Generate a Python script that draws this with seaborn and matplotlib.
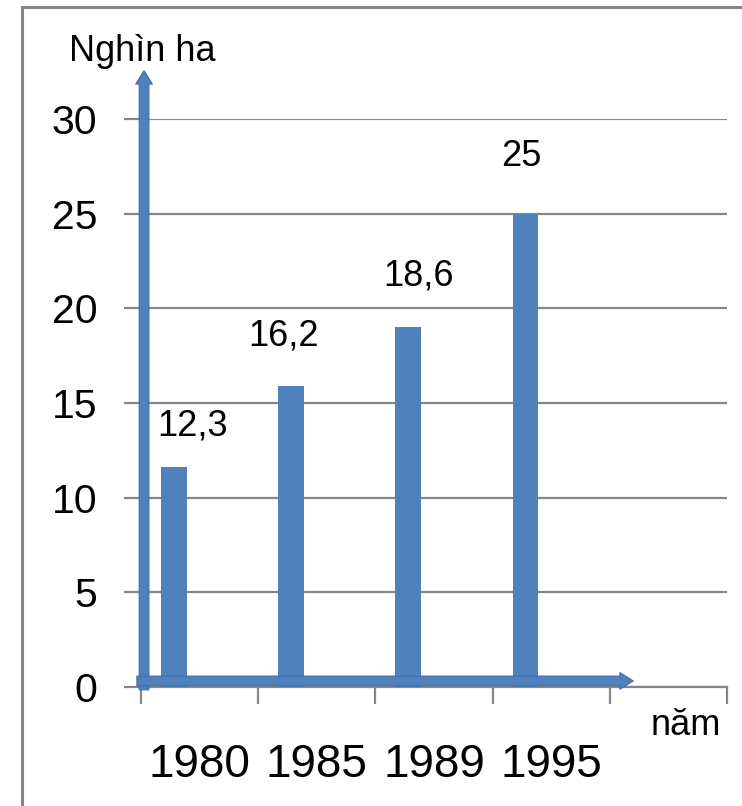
import matplotlib
matplotlib.use("Agg")
import matplotlib.pyplot as plt
import seaborn as sns
import pandas as pd
from matplotlib.patches import Rectangle
from matplotlib.ticker import FixedLocator

# ---- data ----
years = ["1980", "1985", "1989", "1995"]
values = [11.6, 15.9, 19.0, 25.0]
value_labels = ["12,3", "16,2", "18,6", "25"]
y_ticks = [0, 5, 10, 15, 20, 25, 30]
y_title = "Nghìn ha"
x_title = "năm"

# ---- layout (positions of the free-floating labels, data coords) ----
label_anchor = [(-0.064, 13.3), (0.714, 18.05), (1.867, 21.2), (2.748, 27.5)]

BLUE = "#4F81BD"
GRAY = "#868686"

sns.set_theme(style="white")
plt.rcParams["font.family"] = ["Liberation Sans", "DejaVu Sans"]

df = pd.DataFrame({"year": years, "value": values, "series": "s1"})

fig = plt.figure(figsize=(7.42, 8.06), dpi=100)
ax = fig.add_axes([141 / 742, 1 - 687 / 806, (727 - 141) / 742, (687 - 119) / 806])

sns.barplot(data=df, x="year", y="value", hue="series",
            hue_order=["s1", "s2", "s3"], order=years + [""],
            width=0.66, palette=[BLUE, BLUE, BLUE], dodge=True,
            saturation=1, legend=False, ax=ax, zorder=3)
for p in ax.patches:
    p.set_edgecolor("none")

ax.set_xlim(-0.5, 4.5)
ax.set_ylim(0, 30)
ax.set_yticks(y_ticks)
ax.set_yticklabels([str(t) for t in y_ticks])
ax.yaxis.grid(True, color=GRAY, linewidth=1.6, zorder=0)
ax.set_axisbelow(True)
ax.set_xlabel("")
ax.set_ylabel("")

ax.set_xticks(range(5))
ax.set_xticklabels(years + [""])
ax.xaxis.set_minor_locator(FixedLocator([i - 0.5 for i in range(6)]))
ax.tick_params(axis="x", which="major", length=0, pad=40, labelsize=33, labelcolor="black")
ax.tick_params(axis="x", which="minor", length=12, width=1.6, color=GRAY, direction="out", bottom=True)
ax.tick_params(axis="y", which="major", length=12.5, width=1.6, color=GRAY, direction="out", left=True,
               pad=19, labelsize=29.5, labelcolor="black")

for s in ["top", "right"]:
    ax.spines[s].set_visible(False)
for s in ["left", "bottom"]:
    ax.spines[s].set_color(GRAY)
    ax.spines[s].set_linewidth(1.6)

# value labels
for (lx, ly), txt in zip(label_anchor, value_labels):
    ax.text(lx, ly, txt, ha="center", va="baseline", fontsize=26, color="black", zorder=5)

# arrows (axis decorations)
arrow_kw = dict(arrowstyle="simple,head_length=0.8,head_width=1.0,tail_width=0.58",
                mutation_scale=12, fc=BLUE, ec="#3D6EA8", lw=0.8, shrinkA=0, shrinkB=0)
ax.annotate("", xy=(-0.474, 32.55), xytext=(-0.474, -0.15), xycoords="data",
            arrowprops=arrow_kw, annotation_clip=False, zorder=6)
ax.annotate("", xy=(3.70, 0.32), xytext=(-0.535, 0.32), xycoords="data",
            arrowprops=arrow_kw, annotation_clip=False, zorder=6)

# axis titles
fig.text(142 / 742, 1 - 61 / 806, y_title, ha="center", va="baseline", fontsize=26, color="black")
fig.text(686 / 742, 1 - 735 / 806, x_title, ha="center", va="baseline", fontsize=26, color="black")

# frame
fig.patches.append(Rectangle((22 / 742, -0.2), 1.5, 1.2 - 7 / 806, transform=fig.transFigure,
                             fill=False, edgecolor=GRAY, linewidth=2.2, zorder=0))

fig.savefig("out.png", dpi=100)
